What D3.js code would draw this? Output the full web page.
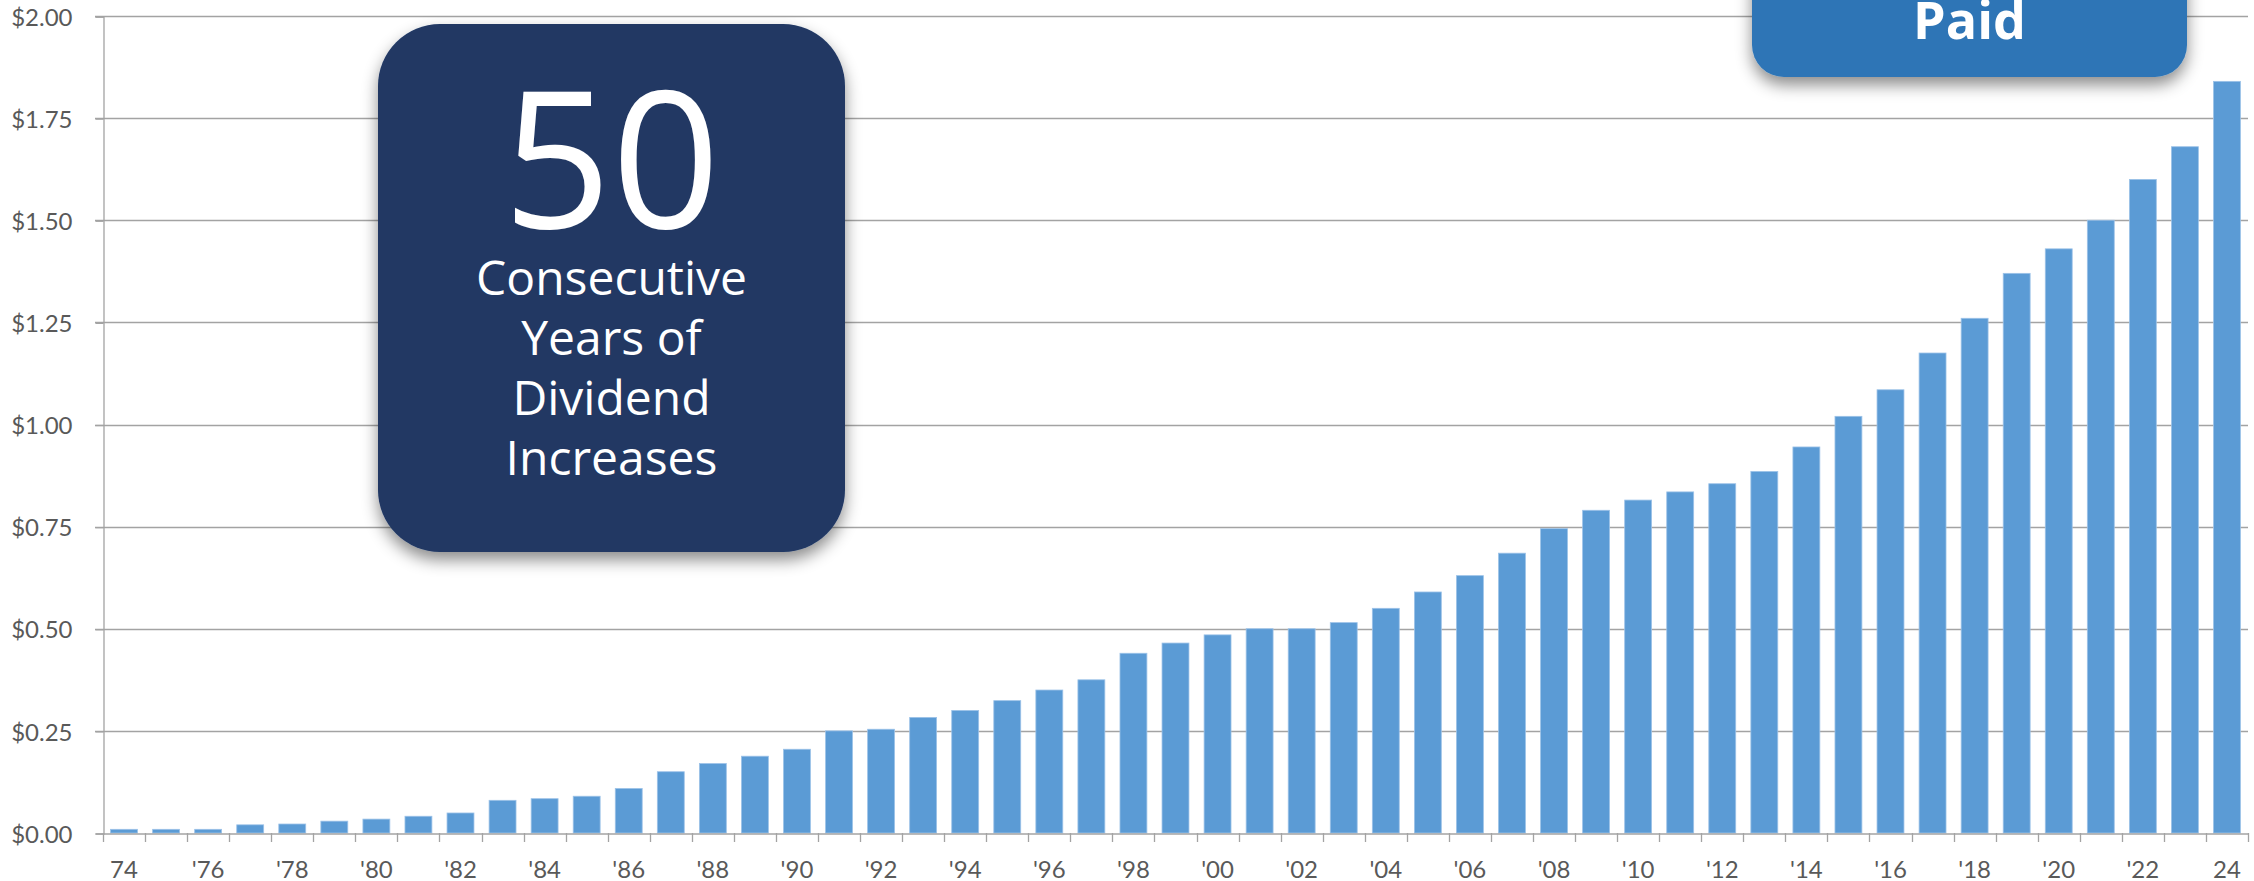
<!DOCTYPE html>
<html>
<head>
<meta charset="utf-8">
<script src="https://cdn.jsdelivr.net/npm/d3@7"></script>
<style>
  html, body { margin: 0; padding: 0; background: #ffffff; overflow: hidden; }
  svg { display: block; }
</style>
</head>
<body>
<svg id="chart" width="2254" height="881"></svg>
<script>
// ---------- DATA ----------
const years = [1974,1975,1976,1977,1978,1979,1980,1981,1982,1983,1984,1985,1986,1987,1988,1989,
  1990,1991,1992,1993,1994,1995,1996,1997,1998,1999,2000,2001,2002,2003,2004,2005,2006,2007,2008,
  2009,2010,2011,2012,2013,2014,2015,2016,2017,2018,2019,2020,2021,2022,2023,2024];
const dividends = [0.009,0.009,0.009,0.020,0.022,0.029,0.034,0.041,0.049,0.080,0.084,0.090,0.109,
  0.150,0.170,0.188,0.205,0.250,0.254,0.283,0.300,0.324,0.350,0.375,0.440,0.465,0.485,0.500,0.500,
  0.515,0.550,0.590,0.630,0.685,0.745,0.790,0.815,0.835,0.855,0.885,0.945,1.020,1.085,1.175,1.260,
  1.370,1.430,1.500,1.600,1.680,1.840];
const xTickLabels = ["74","","'76","","'78","","'80","","'82","","'84","","'86","","'88","",
  "'90","","'92","","'94","","'96","","'98","","'00","","'02","","'04","","'06","","'08","",
  "'10","","'12","","'14","","'16","","'18","","'20","","'22","","24"];
const yTicks = [0, 0.25, 0.5, 0.75, 1.0, 1.25, 1.5, 1.75, 2.0];
const badgeBig = "50";
const badgeLines = ["Consecutive", "Years of", "Dividend", "Increases"];
const badgeSmall = "Paid";

// ---------- LAYOUT ----------
const svg = d3.select("#chart");
const axisX0 = 103, axisX1 = 2248;
const yTop = 16, yBottom = 833;

const x = d3.scaleBand().domain(years).range([axisX0, axisX1]).paddingInner(0.36).paddingOuter(0.18);
const y = d3.scaleLinear().domain([0, 2]).range([yBottom, yTop]);

const defs = svg.append("defs");
const f = defs.append("filter").attr("id", "shadow").attr("x", "-20%").attr("y", "-20%").attr("width", "140%").attr("height", "140%");
f.append("feDropShadow").attr("dx", 0).attr("dy", 8).attr("stdDeviation", 8)
  .attr("flood-color", "#000").attr("flood-opacity", 0.45);

const labelFont = "Lato, 'Open Sans', sans-serif";
const gridColor = "#a3a3a3";
const textColor = "#595959";

// gridlines
svg.append("g").selectAll("line").data(yTicks.filter(d => d > 0)).join("line")
  .attr("x1", axisX0 - 8).attr("x2", axisX1)
  .attr("y1", d => Math.round(y(d)) + 0.5).attr("y2", d => Math.round(y(d)) + 0.5)
  .attr("stroke", gridColor).attr("stroke-width", 1.3);

// y axis
const yAxis = svg.append("g").attr("transform", `translate(${axisX0 + 0.5},0.5)`)
  .call(d3.axisLeft(y).tickValues(yTicks).tickFormat(d3.format("$.2f")).tickSize(8).tickPadding(23));
yAxis.select(".domain").attr("stroke", gridColor).attr("stroke-width", 1.3);
yAxis.selectAll(".tick line").attr("stroke", gridColor).attr("stroke-width", 1.3);
yAxis.selectAll(".tick text").attr("fill", textColor).attr("font-family", labelFont).attr("font-size", 24)
  .attr("dy", "0.36em");

// bars
svg.append("g").selectAll("rect").data(years).join("rect")
  .attr("x", d => x(d)).attr("width", x.bandwidth())
  .attr("y", (d, i) => y(dividends[i])).attr("height", (d, i) => y(0) - y(dividends[i]))
  .attr("fill", "#5b9bd5").attr("stroke", "#9cc2e8").attr("stroke-width", 0.8);

// x axis
const xAxis = svg.append("g").attr("transform", `translate(0,${yBottom + 0.5})`)
  .call(d3.axisBottom(x).tickSize(0).tickFormat((d, i) => xTickLabels[i]));
xAxis.select(".domain").attr("stroke", gridColor).attr("stroke-width", 1.3);
xAxis.selectAll(".tick text").attr("fill", textColor).attr("font-family", labelFont).attr("font-size", 24)
  .attr("y", 36).attr("dy", "0.36em");
// boundary ticks
const step = x.step();
svg.append("g").selectAll("line").data(d3.range(years.length + 1)).join("line")
  .attr("x1", i => Math.round(axisX0 + i * step) + 0.5).attr("x2", i => Math.round(axisX0 + i * step) + 0.5)
  .attr("y1", yBottom).attr("y2", yBottom + 9)
  .attr("stroke", gridColor).attr("stroke-width", 1.3);

// big badge
const bx0 = 378, bx1 = 845, by0 = 24, by1 = 552;
const bcx = (bx0 + bx1) / 2;
svg.append("rect").attr("x", bx0).attr("y", by0).attr("width", bx1 - bx0).attr("height", by1 - by0)
  .attr("rx", 62).attr("ry", 62).attr("fill", "#203864").attr("filter", "url(#shadow)");
svg.append("text").attr("x", bcx).attr("y", 228).attr("text-anchor", "middle")
  .attr("font-family", "'Open Sans', sans-serif").attr("font-size", 190).attr("fill", "#fff").text(badgeBig);
svg.append("g").selectAll("text").data(badgeLines).join("text")
  .attr("x", bcx).attr("y", (d, i) => 295 + i * 60).attr("text-anchor", "middle")
  .attr("font-family", "'Open Sans', sans-serif").attr("font-size", 48).attr("fill", "#fff").text(d => d);

// top-right badge
const sx0 = 1752, sx1 = 2187, sy0 = -90, sy1 = 77;
svg.append("rect").attr("x", sx0).attr("y", sy0).attr("width", sx1 - sx0).attr("height", sy1 - sy0)
  .attr("rx", 32).attr("ry", 32).attr("fill", "#2e75b6").attr("filter", "url(#shadow)");
svg.append("text").attr("x", (sx0 + sx1) / 2).attr("y", 39).attr("text-anchor", "middle")
  .attr("font-family", "'Open Sans', sans-serif").attr("font-weight", 700).attr("font-size", 52)
  .attr("fill", "#fff").text(badgeSmall);
</script>
</body>
</html>
